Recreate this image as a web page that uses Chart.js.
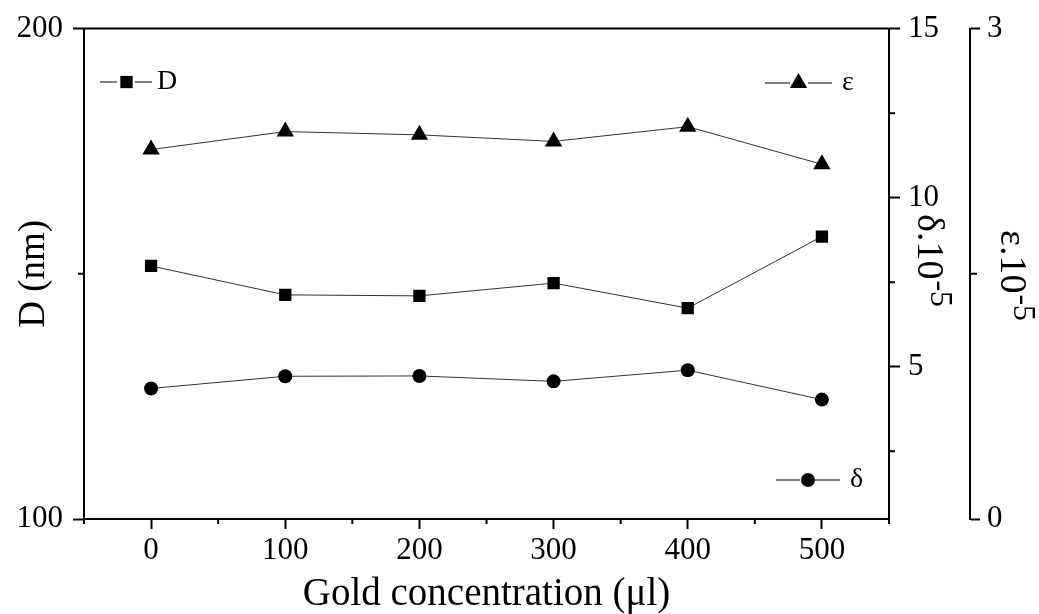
<!DOCTYPE html>
<html lang="en">

<head>
  <meta charset="UTF-8" />
  <meta name="viewport" content="width=device-width, initial-scale=1.0" />
  <title>Gold concentration</title>
  <style>
    * {
      margin: 0;
      padding: 0;
    }

    body {
      background: #fff;
    }

    #myChart {
      display: block;
    }
  </style>
</head>

<body>
  <canvas id="myChart" width="1039" height="614"></canvas>
  <script src="https://cdn.jsdelivr.net/npm/chart.js@4.4.1/dist/chart.umd.min.js"></script>
  <script>
    const concentration = [0, 100, 200, 300, 400, 500];
    const sizeD = [151.6, 145.7, 145.5, 148.1, 143.0, 157.6];
    const deltaVals = [4.36, 4.72, 4.73, 4.57, 4.90, 4.03];
    const epsVals = [2.26, 2.37, 2.35, 2.31, 2.40, 2.17];

    const xTicks = [0, 100, 200, 300, 400, 500];
    const xMinor = [-50, 50, 150, 250, 350, 450, 550];
    const dTicks = [100, 200];
    const dMinor = [150];
    const deltaTicks = [5, 10, 15];
    const deltaMinor = [2.5, 7.5, 12.5];
    const epsTicks = [0, 3];
    const epsMinor = [1.5];

    const serif = "'Liberation Serif', 'Times New Roman', serif";
    Chart.defaults.font.family = serif;
    Chart.defaults.color = "#000";

    function pts(values) {
      return concentration.map((c, i) => ({ x: c, y: values[i] }));
    }

    function setTicks(list) {
      return function (scale) {
        scale.ticks = list.map((v) => ({ value: v }));
      };
    }

    const axisGrid = {
      drawOnChartArea: false,
      drawTicks: true,
      tickLength: 11,
      tickWidth: 2,
      tickColor: "#000",
    };
    const axisBorder = { display: true, color: "#000", width: 2 };

    // title of the right axes with a raised "-5"
    function drawRotTitle(ctx, main, sup, x, y) {
      ctx.save();
      ctx.translate(x, y);
      ctx.rotate(Math.PI / 2);
      ctx.fillStyle = "#000";
      ctx.textAlign = "left";
      ctx.textBaseline = "alphabetic";
      ctx.font = "38px " + serif;
      ctx.fillText(main, 0, 0);
      const w = ctx.measureText(main).width;
      ctx.font = "32px " + serif;
      ctx.fillText(sup, w + 1, -13);
      ctx.restore();
    }

    function legendItem(ctx, style, radius, label, x0, x1, x2, x3, mx, tx, y) {
      ctx.save();
      ctx.strokeStyle = "#000";
      ctx.fillStyle = "#000";
      ctx.lineWidth = 1;
      ctx.beginPath();
      ctx.moveTo(x0, y);
      ctx.lineTo(x1, y);
      ctx.moveTo(x2, y);
      ctx.lineTo(x3, y);
      ctx.stroke();
      Chart.helpers.drawPoint(ctx, { pointStyle: style, radius: radius, rotation: 0, borderWidth: 0 }, mx, y);
      ctx.font = "28px " + serif;
      ctx.textBaseline = "middle";
      ctx.textAlign = "left";
      ctx.fillText(label, tx, y);
      ctx.restore();
    }

    const extras = {
      id: "extras",
      afterDraw(chart) {
        const ctx = chart.ctx;
        const area = chart.chartArea;
        const s = chart.scales;
        ctx.save();
        ctx.strokeStyle = "#000";
        ctx.lineWidth = 2;
        ctx.beginPath();
        ctx.moveTo(area.left - 1, area.top);
        ctx.lineTo(area.right + 1, area.top);
        ctx.stroke();

        // minor ticks
        ctx.beginPath();
        xMinor.forEach((v) => {
          const px = s.x.getPixelForValue(v);
          ctx.moveTo(px, area.bottom);
          ctx.lineTo(px, area.bottom + 5);
        });
        dMinor.forEach((v) => {
          const py = s.y.getPixelForValue(v);
          ctx.moveTo(area.left, py);
          ctx.lineTo(area.left - 6, py);
        });
        deltaMinor.forEach((v) => {
          const py = s.yDelta.getPixelForValue(v);
          ctx.moveTo(area.right, py);
          ctx.lineTo(area.right + 6, py);
        });
        epsMinor.forEach((v) => {
          const py = s.yEps.getPixelForValue(v);
          ctx.moveTo(s.yEps.left, py);
          ctx.lineTo(s.yEps.left + 7, py);
        });
        ctx.stroke();
        ctx.restore();

        drawRotTitle(ctx, "\u03b4.10", "-5", s.yDelta.left + 29, 214);
        drawRotTitle(ctx, "\u03b5.10", "-5", s.yEps.left + 31, 230);

        legendItem(ctx, "rect", 8.7, "D", 100, 117, 135, 152, 126.5, 157, 82);
        legendItem(ctx, "triangle", 10, "\u03b5", 765, 790, 808, 832, 798.5, 842, 83);
        legendItem(ctx, "circle", 7, "\u03b4", 776, 800, 815, 840, 808, 850, 480);
      },
    };

    const data = {
      datasets: [
        {
          label: "D",
          data: pts(sizeD),
          yAxisID: "y",
          pointStyle: "rect",
          pointRadius: 8.7,
        },
        {
          label: "\u03b5",
          data: pts(epsVals),
          yAxisID: "yEps",
          pointStyle: "triangle",
          pointRadius: 10,
        },
        {
          label: "\u03b4",
          data: pts(deltaVals),
          yAxisID: "yDelta",
          pointStyle: "circle",
          pointRadius: 7,
        },
      ],
    };

    data.datasets.forEach((d) => {
      d.borderColor = "#333";
      d.borderWidth = 1;
      d.backgroundColor = "#000";
      d.pointBackgroundColor = "#000";
      d.pointBorderColor = "#000";
      d.pointBorderWidth = 0;
      d.tension = 0;
    });

    const options = {
      responsive: false,
      animation: false,
      layout: {
        padding: { top: 24, left: 0, right: 0, bottom: 0 },
      },
      scales: {
        x: {
          type: "linear",
          position: "bottom",
          min: -50,
          max: 550,
          afterBuildTicks: setTicks(xTicks),
          afterFit: (scale) => {
            scale.height = 95;
          },
          grid: Object.assign({}, axisGrid, { tickLength: 10 }),
          border: axisBorder,
          ticks: {
            autoSkip: false,
            maxRotation: 0,
            padding: 3,
            font: { size: 31 },
          },
          title: {
            display: true,
            text: "Gold concentration (\u03bcl)",
            font: { size: 39 },
            padding: { top: 0, bottom: -4 },
          },
        },
        y: {
          type: "linear",
          position: "left",
          min: 100,
          max: 200,
          afterBuildTicks: setTicks(dTicks),
          afterFit: (scale) => {
            scale.width = 84;
          },
          grid: axisGrid,
          border: axisBorder,
          ticks: {
            padding: 10,
            font: { size: 31 },
          },
          title: {
            display: true,
            text: "D (nm)",
            font: { size: 37 },
            padding: { top: 12, bottom: 0 },
          },
        },
        yDelta: {
          type: "linear",
          position: "right",
          weight: 0,
          min: 0.5,
          max: 15,
          afterBuildTicks: setTicks(deltaTicks),
          afterFit: (scale) => {
            scale.width = 81;
          },
          grid: axisGrid,
          border: axisBorder,
          ticks: {
            padding: 8,
            font: { size: 31 },
          },
        },
        yEps: {
          type: "linear",
          position: "right",
          weight: 1,
          min: 0,
          max: 3,
          afterBuildTicks: setTicks(epsTicks),
          afterFit: (scale) => {
            scale.width = 69;
          },
          grid: Object.assign({}, axisGrid, { tickLength: 10 }),
          border: axisBorder,
          ticks: {
            padding: 7,
            font: { size: 31 },
          },
        },
      },
      plugins: {
        legend: { display: false },
        tooltip: { enabled: false },
      },
    };

    const ctx = document.getElementById("myChart").getContext("2d");
    const myChart = new Chart(ctx, {
      type: "line",
      data: data,
      options: options,
      plugins: [extras],
    });
  </script>
</body>

</html>
